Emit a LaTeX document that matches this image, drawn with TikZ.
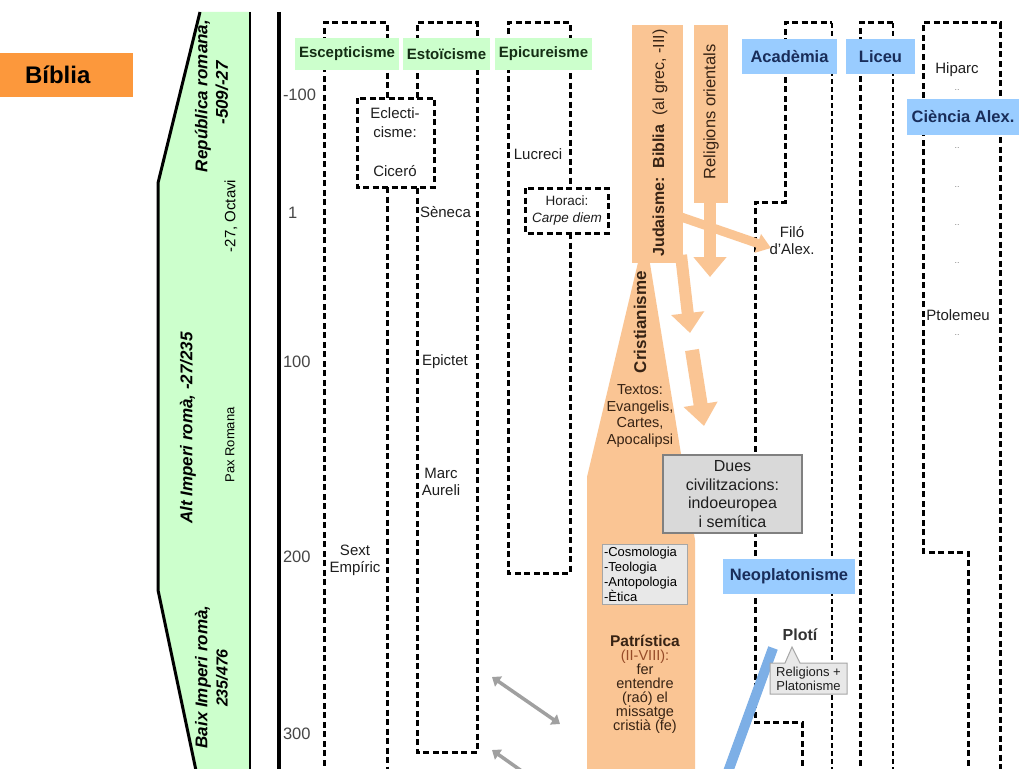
\documentclass[tikz,border=0pt]{standalone}
\usepackage{fontspec}
\setmainfont{Liberation Sans}
\usetikzlibrary{arrows.meta}
\newcommand{\fs}[2]{\fontsize{#1}{#2}\selectfont}
\definecolor{gfill}{RGB}{204,255,204}
\definecolor{gtext}{RGB}{20,45,20}
\definecolor{bfill}{RGB}{153,204,255}
\definecolor{btext}{RGB}{25,45,90}
\definecolor{peach}{RGB}{250,197,148}
\definecolor{ptext}{RGB}{55,35,20}
\definecolor{pbrown}{RGB}{150,75,40}
\definecolor{bib}{RGB}{252,152,60}
\definecolor{blueline}{RGB}{125,175,230}
\definecolor{gbox}{RGB}{217,217,217}
\definecolor{gboxline}{RGB}{128,128,128}
\definecolor{lbox}{RGB}{232,232,232}
\definecolor{yeartext}{RGB}{70,70,70}
\definecolor{arrgray}{RGB}{160,160,160}
\definecolor{coltext}{RGB}{30,30,30}
\definecolor{dotgray}{RGB}{130,130,130}
\begin{document}
\begin{tikzpicture}[x=1pt,y=-1pt,
  every node/.style={inner sep=0pt, outer sep=0pt},
  dsh/.style={line width=3pt, dash pattern=on 6pt off 3.5pt},
  dthin/.style={line width=1.5pt, dash pattern=on 5pt off 3pt},
  ghead/.style={fill=gfill, text=gtext, font=\bfseries\fs{15}{18}},
  bhead/.style={fill=bfill, text=btext, font=\bfseries\fs{16.5}{19}},
  coltxt/.style={text=coltext, font=\fs{15}{17}, align=center},
  bandtxt/.style={text=black, font=\bfseries\itshape\fs{17}{20}, rotate=90},
  year/.style={text=yeartext, font=\fs{16.5}{19}, anchor=west},
  ortxt/.style={text=ptext, align=center},
  dots/.style={text=dotgray, font=\fs{9}{10}},
  peacharrow/.style={draw=peach, line width=#1}
]
\useasboundingbox (0,0) rectangle (1024,768);
\fill[white] (0,0) rectangle (1024,768);
\clip (0,0) rectangle (1024,768);

% ---------- left band (periods) ----------
\fill[gfill] (200,12) -- (250,12) -- (250,775) -- (197,775) -- (158,590) -- (158,183) -- cycle;
\draw[line width=3pt] (200,12) -- (158,183) -- (158,590) -- (198,780);
\draw[line width=1.2pt] (250,12) -- (250,775);
\node[bandtxt] (rep) at (203,96) {República romana,};
\node[bandtxt] (repd) at (222,93) {-509/-27};
\node[rotate=90, font=\fs{15}{18}] (oct) at (231,216) {-27, Octavi};
\node[bandtxt] (alt) at (188,428) {Alt Imperi romà, -27/235};
\node[rotate=90, font=\fs{13}{15}] (pax) at (230,445) {Pax Romana};
\node[bandtxt] (baix) at (203,677) {Baix Imperi romà,};
\node[bandtxt, font=\bfseries\itshape\fs{16}{19}] (baixd) at (222,678) {235/476};

% ---------- Bíblia ----------
\node[fill=bib, minimum width=133pt, minimum height=44pt, font=\bfseries\fs{24}{28}] (biblia) at (66.5,75)
  {\makebox[133pt][l]{\hspace{25pt}Bíblia}};

% ---------- time axis ----------
\draw[line width=4pt] (279,12) -- (279,775);
\node[year] (y1) at (283,95) {-100};
\node[year] (y2) at (288,213) {1};
\node[year] (y3) at (283,362) {100};
\node[year] (y4) at (283,557) {200};
\node[year] (y5) at (283,734) {300};

% ---------- dashed columns ----------
\draw[dsh] (324,775) -- (324,23) -- (387,23) -- (387,98);
\draw[dsh] (387,187) -- (387,775);
\draw[dsh] (357,98) rectangle (434,187);
\draw[dsh] (417,98) -- (417,23) -- (477,23) -- (477,752) -- (417,752) -- (417,187);
\draw[dsh] (570,233) -- (570,573) -- (508,573) -- (508,23) -- (570,23) -- (570,188);
\draw[dsh] (525,188) rectangle (608,233);
\draw[dsh] (802,775) -- (802,722) -- (755,722) -- (755,202) -- (785,202) -- (785,23) -- (832,23);
\draw[dthin] (832,23) -- (832,775);
\draw[dsh] (860,775) -- (860,23) -- (893,23);
\draw[dthin] (893,23) -- (893,775);
\draw[dsh] (968,775) -- (968,552) -- (923,552) -- (923,23) -- (1000,23) -- (1000,775);

% ---------- column texts ----------
\node[coltxt, font=\fs{15}{19.5}] (eclec) at (395,142) {Eclecti-\\cisme:\\[19.5pt]Ciceró};
\node[coltxt, anchor=west] (seneca) at (420,212) {Sèneca};
\node[coltxt, anchor=west] (epictet) at (422,362) {Epictet};
\node[coltxt] (marc) at (441,482) {Marc\\Aureli};
\node[coltxt] (sext) at (355,560) {Sext\\Empíric};
\node[coltxt] (lucreci) at (538,154) {Lucreci};
\node[coltxt, font=\fs{13.5}{17}] (horaci) at (567,211) {Horaci:\\\textit{Carpe diem}};
\node[coltxt] (filo) at (792,241) {Filó\\d'Alex.};
\node[coltxt] (hiparc) at (957,70) {Hiparc};
\node[dots] (d1) at (957,90) {..};
\node[dots] (d2) at (957,148) {..};
\node[dots] (d3) at (957,187) {..};
\node[dots] (d4) at (957,225) {..};
\node[dots] (d5) at (957,263) {..};
\node[coltxt] (ptol) at (958,315) {Ptolemeu};
\node[dots] (d6) at (957,335) {..};

% ---------- orange (religions) ----------
\fill[peach] (645,233) -- (695,540) -- (695,775) -- (587,775) -- (587,477) -- cycle;
\fill[peach] (632,25) rectangle (683,263);
\fill[peach] (694,25) rectangle (728,203);
\coordinate (filoin) at (655,208);
\coordinate (filotip) at (771,248);
\draw[peacharrow=9pt, -{Triangle[width=19pt,length=14pt]}] (filoin) -- (filotip);
\draw[peacharrow=12pt, -{Triangle[width=32pt,length=20pt]}] (710,200) -- (710,277);
\draw[peacharrow=12pt, -{Triangle[width=32pt,length=20pt]}] (681,255) -- (690,333);
\draw[peacharrow=14pt, -{Triangle[width=33pt,length=22pt]}] (692,350) -- (704,426);

\node[ortxt, rotate=90, font=\fs{16}{19}] (juda) at (660,143)
  {\textbf{Judaisme:}\hspace{9pt}\textbf{Biblia}\hspace{9pt}(al grec, -III)};
\node[ortxt, rotate=90, font=\fs{16.5}{19}] (relor) at (711,112) {Religions orientals};
\node[ortxt, rotate=90, font=\bfseries\fs{17}{20}] (crist) at (640,322) {Cristianisme};
\node[ortxt, font=\fs{14.5}{16.5}] (textos) at (640,416) {Textos:\\Evangelis,\\Cartes,\\Apocalipsi};
\node[ortxt, font=\fs{14.5}{14}] (patr) at (645,684)
  {{\fs{15.5}{14}\textbf{Patrística}}\\{\color{pbrown}(II-VIII):}\\fer\\entendre\\(raó) el\\missatge\\cristià (fe)};

% ---------- gray boxes ----------
\node[fill=gbox, draw=gboxline, line width=1.5pt, minimum width=139pt, minimum height=78pt,
      align=center, text=coltext, font=\fs{16}{18.7}] (dues) at (732.5,494)
  {Dues\\civilitzacions:\\indoeuropea\\i semítica};
\node[fill=lbox, draw=gboxline!70, line width=1pt, minimum width=85pt, minimum height=60pt,
      text width=81pt, align=left, text=black, font=\fs{13}{15}] (cosmo) at (644.5,574)
  {-Cosmologia\\-Teologia\\-Antopologia\\-Ètica};

% ---------- headers ----------
\node[ghead, minimum width=104pt, minimum height=32pt] (esc) at (347,54) {Escepticisme};
\node[ghead, minimum width=87pt, minimum height=32pt] (est) at (446.5,54) {Estoïcisme};
\node[ghead, minimum width=97pt, minimum height=32pt] (epi) at (543.5,54) {Epicureisme};
\node[bhead, minimum width=95pt, minimum height=35pt] (acad) at (789.5,56.5) {Acadèmia};
\node[bhead, minimum width=69pt, minimum height=35pt] (liceu) at (880.5,56.5) {Liceu};
\node[bhead, minimum width=112pt, minimum height=36pt] (cien) at (963,117) {Ciència Alex.};
\node[bhead, minimum width=132pt, minimum height=35pt] (neo) at (789,576.5) {Neoplatonisme};

% ---------- Plotí ----------
\draw[blueline, line width=10pt] (773,648) -- (725,780);
\node[font=\bfseries\fs{16}{19}, text=black!80] (ploti) at (800,635) {Plotí};
\filldraw[fill=lbox, draw=gboxline!70, line width=1pt]
  (770,663) -- (785,663) -- (792,647) -- (800,663) -- (847,663) -- (847,694) -- (770,694) -- cycle;
\node[align=center, font=\fs{13}{14.5}, text=coltext] (relplat) at (808.5,679) {Religions +\\Platonisme};

% ---------- gray double arrows ----------
\coordinate (ga1) at (492,677);
\coordinate (ga2) at (560,724);
\coordinate (gb1) at (492,750);
\coordinate (gb2) at (540,784);
\draw[arrgray, line width=3.5pt, {Triangle[width=12pt,length=8pt]}-{Triangle[width=12pt,length=8pt]}] (ga1) -- (ga2);
\draw[arrgray, line width=3.5pt, {Triangle[width=12pt,length=8pt]}-] (gb1) -- (gb2);
\end{tikzpicture}
\end{document}
